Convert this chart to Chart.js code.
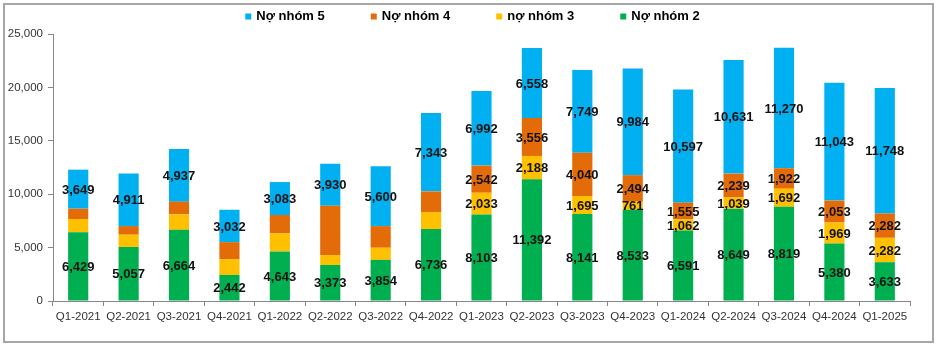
<!DOCTYPE html>
<html>
<head>
<meta charset="utf-8">
<script src="https://cdn.jsdelivr.net/npm/chart.js@4"></script>
<style>
  body { margin: 0; background: #fff; }
  #chart { position: absolute; left: 0; top: 0; }
</style>
</head>
<body>
<canvas id="chart" width="938" height="345"></canvas>
<script>
const quarters = ["Q1-2021", "Q2-2021", "Q3-2021", "Q4-2021", "Q1-2022", "Q2-2022", "Q3-2022", "Q4-2022",
  "Q1-2023", "Q2-2023", "Q3-2023", "Q4-2023", "Q1-2024", "Q2-2024", "Q3-2024", "Q4-2024", "Q1-2025"];
const nhom2 = [6429, 5057, 6664, 2442, 4643, 3373, 3854, 6736, 8103, 11392, 8141, 8533, 6591, 8649, 8819, 5380, 3633];
const nhom3 = [1250, 1150, 1450, 1480, 1690, 930, 1130, 1600, 2033, 2188, 1695, 761, 1062, 1039, 1692, 1969, 2282];
const nhom4 = [970, 810, 1190, 1590, 1720, 4610, 2030, 1930, 2542, 3556, 4040, 2494, 1555, 2239, 1922, 2053, 2282];
const nhom5 = [3649, 4911, 4937, 3032, 3083, 3930, 5600, 7343, 6992, 6558, 7749, 9984, 10597, 10631, 11270, 11043, 11748];
// yellow/orange values only carry a label from Q1-2023 on
const minorLabelShown = [0, 0, 0, 0, 0, 0, 0, 0, 1, 1, 1, 1, 1, 1, 1, 1, 1];
const yTicks = [0, 5000, 10000, 15000, 20000, 25000];

const FONT = "'Liberation Sans', Arial, sans-serif";
const fmt = v => v.toLocaleString("en-US");

const frame = {
  id: "frame",
  beforeDraw(chart) {
    const ctx = chart.ctx;
    ctx.save();
    ctx.fillStyle = "#fff";
    ctx.fillRect(0, 0, chart.width, chart.height);
    ctx.strokeStyle = "#a6a6a6";
    ctx.lineWidth = 2;
    ctx.strokeRect(4, 4, 929, 338);
    ctx.restore();
  }
};

const legendBar = {
  id: "legendBar",
  afterDraw(chart) {
    const ctx = chart.ctx;
    const items = chart.data.datasets.slice().reverse();
    ctx.save();
    ctx.font = "bold 13px " + FONT;
    ctx.textBaseline = "middle";
    const box = 6, gapText = 5, gapItem = 46;
    const widths = items.map(d => box + gapText + ctx.measureText(d.label).width);
    const total = widths.reduce((a, b) => a + b, 0) + gapItem * (items.length - 1);
    let x = 472.5 - total / 2;
    const y = 16.5;
    items.forEach((d, i) => {
      ctx.fillStyle = d.backgroundColor;
      ctx.fillRect(x, y - box / 2, box, box);
      ctx.fillStyle = "#000";
      ctx.fillText(d.label, x + box + gapText, y);
      x += widths[i] + gapItem;
    });
    ctx.restore();
  }
};

const valueLabels = {
  id: "valueLabels",
  afterDatasetsDraw(chart) {
    const ctx = chart.ctx;
    ctx.save();
    ctx.font = "bold 13px " + FONT;
    ctx.fillStyle = "#111";
    ctx.textAlign = "center";
    ctx.textBaseline = "middle";
    chart.data.datasets.forEach((ds, di) => {
      const meta = chart.getDatasetMeta(di);
      meta.data.forEach((bar, i) => {
        if (ds.minor && !minorLabelShown[i]) return;
        const p = bar.getProps(["x", "y", "base"], true);
        ctx.fillText(fmt(ds.data[i]), p.x, (p.y + p.base) / 2 + 1);
      });
    });
    ctx.restore();
  }
};

new Chart(document.getElementById("chart"), {
  type: "bar",
  data: {
    labels: quarters,
    datasets: [
      { label: "Nợ nhóm 2", data: nhom2, backgroundColor: "#00b050" },
      { label: "nợ nhóm 3", data: nhom3, backgroundColor: "#ffc000", minor: true },
      { label: "Nợ nhóm 4", data: nhom4, backgroundColor: "#e36c09", minor: true },
      { label: "Nợ nhóm 5", data: nhom5, backgroundColor: "#00b0f0" }
    ]
  },
  options: {
    responsive: false,
    animation: false,
    datasets: { bar: { categoryPercentage: 1, barPercentage: 0.4 } },
    layout: { padding: { top: 34, left: 0, right: 28, bottom: 0 } },
    plugins: {
      legend: { display: false },
      tooltip: { enabled: false }
    },
    scales: {
      x: {
        stacked: true,
        afterFit: s => { s.height = 44; },
        grid: { offset: true, drawOnChartArea: false, drawTicks: true, tickLength: 5, color: "#868686" },
        border: { color: "#868686" },
        ticks: { color: "#333", font: { family: FONT, size: 11.5 }, maxRotation: 0, autoSkip: false, padding: 4 }
      },
      y: {
        stacked: true,
        min: 0,
        max: 25000,
        afterFit: s => { s.width = 53; },
        afterBuildTicks: s => { s.ticks = yTicks.map(v => ({ value: v })); },
        grid: { drawOnChartArea: false, drawTicks: true, tickLength: 5, color: "#868686" },
        border: { color: "#868686" },
        ticks: { color: "#333", font: { family: FONT, size: 11.5 }, padding: 5, callback: v => fmt(v) }
      }
    }
  },
  plugins: [frame, valueLabels, legendBar]
});
</script>
</body>
</html>
